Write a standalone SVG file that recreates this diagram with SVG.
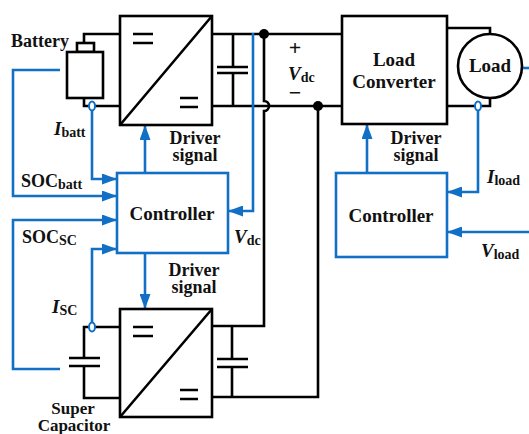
<svg xmlns="http://www.w3.org/2000/svg" width="529" height="434" viewBox="0 0 529 434">
<style>
.w{stroke:#000;stroke-width:2.6;fill:none}
.wf{stroke:#000;stroke-width:2.6;fill:#fff}
.b{stroke:#1170c6;stroke-width:2.6;fill:none}
.ba{stroke:#1170c6;stroke-width:2.6;fill:none;marker-end:url(#ah)}
.dot{fill:#000}
</style>
<defs>
<marker id="ah" markerUnits="userSpaceOnUse" markerWidth="15" markerHeight="11" refX="15" refY="5.5" orient="auto">
<path d="M0,0 L15,5.5 L0,11 z" fill="#1170c6"/>
</marker>
</defs>

<g id="connectors">
<path class="w" d="M120,34 H84 V43"/>
<path class="w" d="M84,98 V106 H120"/>
<path class="w" d="M212,34 H342"/>
<path class="w" d="M212,106 H342"/>
<path class="w" d="M233,34 V67 M217,67 H248 M217,73 H248 M233,73 V106"/>
<path class="w" d="M264,34 V101 a5,5 0 0 1 0,10 V326 H212"/>
<path class="w" d="M318,106 V397 H212"/>
<path class="w" d="M232,326 V359 M217,359 H248 M217,367 H248 M232,367 V397"/>
<path class="w" d="M120,327 H84 V358 M69,358 H100 M69,366 H100 M84,366 V398 H120"/>
<path class="w" d="M447,28 H490 V34"/>
<path class="w" d="M447,106 H490 V98"/>
<path class="ba" d="M92,110 V179 H117"/>
<path class="ba" d="M60,70 H13 V196 H117"/>
<path class="ba" d="M60,369 H13 V220 H117"/>
<path class="ba" d="M92,323 V249 H117"/>
<path class="ba" d="M145,173 V125"/>
<path class="ba" d="M145,253 V309"/>
<path class="ba" d="M253,33 V211 H228"/>
<path class="ba" d="M367,173 V124"/>
<path class="ba" d="M478,110 V192 H447"/>
<path class="ba" d="M529,232 H447"/>
<path class="b" d="M522,68 H529"/>
<ellipse cx="92" cy="106" rx="3" ry="4.5" fill="#fff" stroke="#1170c6" stroke-width="2"/>
<ellipse cx="92" cy="327" rx="3" ry="4.5" fill="#fff" stroke="#1170c6" stroke-width="2"/>
<ellipse cx="478" cy="106" rx="3" ry="4.5" fill="#fff" stroke="#1170c6" stroke-width="2"/>
<circle class="dot" cx="264" cy="34" r="5"/>
<circle class="dot" cx="318" cy="106" r="5"/>
</g>

<g id="battery">
<rect class="wf" x="77" y="43" width="17" height="9"/>
<rect class="wf" x="67" y="52" width="36" height="46"/>
<text x="11" y="47" style="font:bold 18px 'Liberation Serif',serif;fill:#111">Battery</text>
</g>

<g id="top-converter">
<rect class="wf" x="120" y="16" width="92" height="109"/>
<path class="w" d="M120,125 L212,16 M133,34 H153 M133,43 H153 M180,98 H198 M180,107 H198"/>
</g>

<g id="bottom-converter">
<rect class="wf" x="120" y="309" width="92" height="108"/>
<path class="w" d="M120,417 L212,309 M133,327 H153 M133,336 H153 M180,390 H198 M180,399 H198"/>
</g>

<g id="supercap-label">
<text x="73" y="414" text-anchor="middle" style="font:bold 17px 'Liberation Serif',serif;fill:#111">Super</text>
<text x="74" y="431" text-anchor="middle" style="font:bold 17px 'Liberation Serif',serif;fill:#111">Capacitor</text>
</g>

<g id="controller-left">
<rect x="117" y="173" width="111" height="80" fill="#fff" stroke="#1170c6" stroke-width="2.6"/>
<text x="172" y="220" text-anchor="middle" style="font:bold 19px 'Liberation Serif',serif;fill:#111">Controller</text>
</g>

<g id="load-converter">
<rect class="wf" x="342" y="16" width="105" height="108"/>
<text x="394" y="66" text-anchor="middle" style="font:bold 19px 'Liberation Serif',serif;fill:#111">Load</text>
<text x="394" y="88" text-anchor="middle" style="font:bold 19px 'Liberation Serif',serif;fill:#111">Converter</text>
</g>

<g id="load">
<circle class="wf" cx="490" cy="66" r="32"/>
<text x="490" y="72" text-anchor="middle" style="font:bold 19px 'Liberation Serif',serif;fill:#111">Load</text>
</g>

<g id="controller-right">
<rect x="336" y="173" width="111" height="84" fill="#fff" stroke="#1170c6" stroke-width="2.6"/>
<text x="391" y="222" text-anchor="middle" style="font:bold 19px 'Liberation Serif',serif;fill:#111">Controller</text>
</g>

<g id="labels">
<text x="54" y="135" style="font:bold 19px 'Liberation Serif',serif;fill:#111"><tspan style="font-style:italic">I</tspan><tspan dy="2" style="font-size:14px">batt</tspan></text>
<text x="21" y="187" style="font:bold 18px 'Liberation Serif',serif;fill:#111">SOC<tspan dy="2" style="font-size:14px">batt</tspan></text>
<text x="22" y="243" style="font:bold 18px 'Liberation Serif',serif;fill:#111">SOC<tspan dy="2" style="font-size:14px">SC</tspan></text>
<text x="52" y="313" style="font:bold 19px 'Liberation Serif',serif;fill:#111"><tspan style="font-style:italic">I</tspan><tspan dy="2" style="font-size:14px">SC</tspan></text>
<text x="195" y="144" text-anchor="middle" style="font:bold 18px 'Liberation Serif',serif;fill:#111">Driver</text>
<text x="195" y="161" text-anchor="middle" style="font:bold 18px 'Liberation Serif',serif;fill:#111">signal</text>
<text x="194" y="276" text-anchor="middle" style="font:bold 18px 'Liberation Serif',serif;fill:#111">Driver</text>
<text x="194" y="293" text-anchor="middle" style="font:bold 18px 'Liberation Serif',serif;fill:#111">signal</text>
<text x="416" y="144" text-anchor="middle" style="font:bold 18px 'Liberation Serif',serif;fill:#111">Driver</text>
<text x="416" y="161" text-anchor="middle" style="font:bold 18px 'Liberation Serif',serif;fill:#111">signal</text>
<text x="234" y="243" style="font:bold 19px 'Liberation Serif',serif;fill:#111"><tspan style="font-style:italic">V</tspan><tspan dy="2" style="font-size:14px">dc</tspan></text>
<text x="288" y="80" style="font:bold 19px 'Liberation Serif',serif;fill:#111"><tspan style="font-style:italic">V</tspan><tspan dy="2" style="font-size:14px">dc</tspan></text>
<text x="295" y="55" text-anchor="middle" style="font:bold 22px 'Liberation Serif',serif;fill:#111">+</text>
<text x="295" y="100" text-anchor="middle" style="font:bold 22px 'Liberation Serif',serif;fill:#111">−</text>
<text x="487" y="183" style="font:bold 19px 'Liberation Serif',serif;fill:#111"><tspan style="font-style:italic">I</tspan><tspan dy="2" style="font-size:14px">load</tspan></text>
<text x="481" y="257" style="font:bold 19px 'Liberation Serif',serif;fill:#111"><tspan style="font-style:italic">V</tspan><tspan dy="2" style="font-size:14px">load</tspan></text>
</g>
</svg>
